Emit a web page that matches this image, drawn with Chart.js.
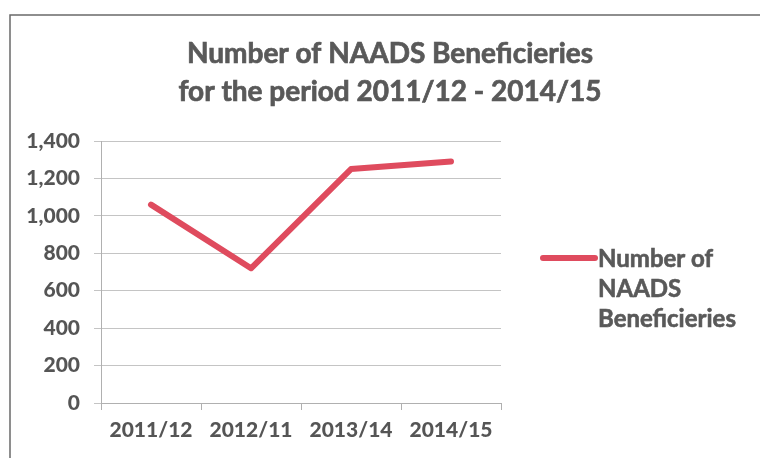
<!DOCTYPE html>
<html lang="en">
<head>
    <meta charset="UTF-8">
    <title>Number of NAADS Beneficieries</title>
    <script src="https://cdn.jsdelivr.net/npm/chart.js"></script>
    <style>
        html, body { margin: 0; padding: 0; background: #fff; }
        #wrap { position: relative; width: 760px; height: 458px; }
    </style>
</head>
<body>
    <div id="wrap"><canvas id="naadsChart" width="760" height="458"></canvas></div>

    <script>
        const periods = ['2011/12', '2012/11', '2013/14', '2014/15'];
        const beneficiaries = [1060, 720, 1250, 1290];
        const seriesName = 'Number of NAADS Beneficieries';
        const legendLines = ['Number of', 'NAADS', 'Beneficieries'];
        const titleLines = ['Number of NAADS Beneficieries', 'for the period 2011/12 - 2014/15'];

        const textGray = '#595959';
        const lineRed = '#DF4B5E';
        const fontFamily = 'Lato, "Open Sans", sans-serif';

        // draw text a touch heavier, the scan's Calibri bold is darker than Lato bold
        function heavyText(ctx, t, x, y) {
            ctx.fillText(t, x, y);
            ctx.strokeText(t, x, y);
        }

        // title, legend and frame drawn by hand (legend text has to wrap)
        const decorations = {
            id: 'decorations',
            beforeDraw(chart) {
                const ctx = chart.ctx;
                ctx.save();
                ctx.strokeStyle = '#6a6a6a';
                ctx.lineWidth = 1.5;
                ctx.beginPath();
                ctx.moveTo(10, 458);
                ctx.lineTo(10, 15);
                ctx.lineTo(760, 15);
                ctx.stroke();
                ctx.restore();
            },
            afterDraw(chart) {
                const ctx = chart.ctx;
                ctx.save();
                ctx.fillStyle = textGray;
                ctx.strokeStyle = textGray;
                ctx.lineWidth = 0.7;
                ctx.font = 'bold 28px ' + fontFamily;
                ctx.textAlign = 'center';
                ctx.textBaseline = 'alphabetic';
                heavyText(ctx, titleLines[0], 390, 63);
                heavyText(ctx, titleLines[1], 390, 101);

                // legend
                ctx.strokeStyle = lineRed;
                ctx.lineWidth = 6;
                ctx.lineCap = 'round';
                ctx.beginPath();
                ctx.moveTo(543, 258);
                ctx.lineTo(595, 258);
                ctx.stroke();
                ctx.font = 'bold 24px ' + fontFamily;
                ctx.textAlign = 'left';
                ctx.strokeStyle = textGray;
                ctx.lineWidth = 0.6;
                ctx.lineCap = 'butt';
                legendLines.forEach((t, i) => heavyText(ctx, t, 598, 267 + i * 30));
                ctx.restore();
            }
        };

        new Chart(document.getElementById('naadsChart'), {
            type: 'line',
            data: {
                labels: periods,
                datasets: [{
                    label: seriesName,
                    data: beneficiaries,
                    borderColor: lineRed,
                    borderWidth: 6,
                    borderCapStyle: 'round',
                    borderJoinStyle: 'round',
                    pointRadius: 0,
                    tension: 0,
                    fill: false
                }]
            },
            options: {
                responsive: false,
                animation: false,
                layout: { padding: { left: 0, top: 141, right: 259, bottom: 0 } },
                plugins: {
                    legend: { display: false },
                    title: { display: false },
                    tooltip: { enabled: false }
                },
                scales: {
                    x: {
                        offset: true,
                        grid: {
                            offset: true,
                            drawOnChartArea: false,
                            drawTicks: true,
                            tickLength: 7,
                            color: '#b0b0b0'
                        },
                        border: { color: '#b0b0b0' },
                        ticks: {
                            color: '#555555',
                            padding: 8,
                            font: { family: fontFamily, size: 21, weight: '900' }
                        },
                        afterFit(scale) { scale.height = 55; }
                    },
                    y: {
                        min: 0,
                        max: 1400,
                        ticks: {
                            stepSize: 200,
                            color: '#555555',
                            padding: 14,
                            font: { family: fontFamily, size: 21, weight: '900' },
                            callback: v => v.toLocaleString('en-US')
                        },
                        grid: { color: '#c4c4c4', tickLength: 7 },
                        border: { color: '#b0b0b0' },
                        afterFit(scale) { scale.width = 101; }
                    }
                }
            },
            plugins: [decorations]
        });
    </script>
</body>
</html>
